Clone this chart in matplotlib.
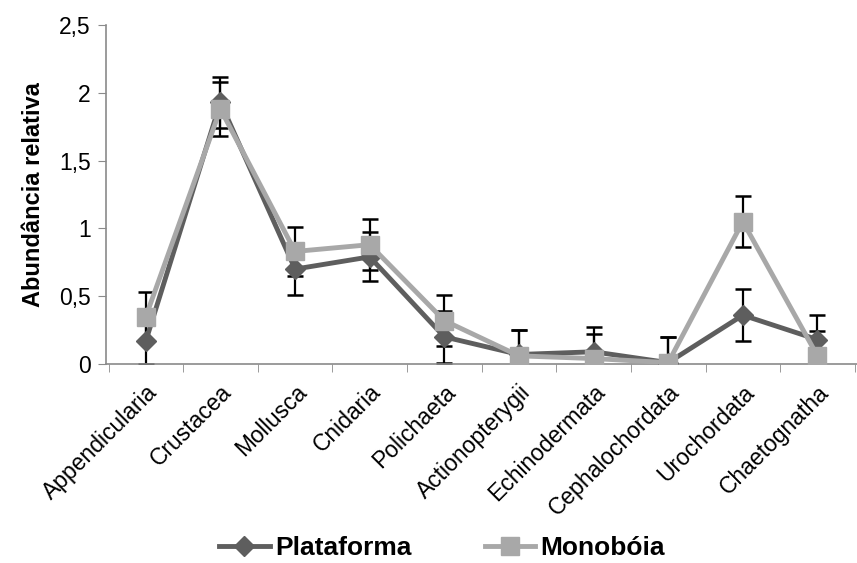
import numpy as np
import matplotlib.pyplot as plt
from matplotlib.ticker import FixedLocator, FuncFormatter

# relative abundance of zooplankton groups at two sites
groups = ['Appendicularia', 'Crustacea', 'Mollusca', 'Cnidaria', 'Polichaeta',
          'Actionopterygii', 'Echinodermata', 'Cephalochordata', 'Urochordata',
          'Chaetognatha']
plataforma = [0.17, 1.93, 0.70, 0.79, 0.20, 0.07, 0.09, 0.01, 0.36, 0.18]
plataforma_err = [0.17, 0.19, 0.19, 0.18, 0.19, 0.18, 0.18, 0.19, 0.19, 0.18]
monoboia = [0.35, 1.88, 0.83, 0.88, 0.32, 0.06, 0.04, 0.01, 1.05, 0.06]
monoboia_err = [0.18, 0.20, 0.18, 0.19, 0.19, 0.19, 0.18, 0.19, 0.19, 0.18]

plt.rcParams['font.family'] = ['Liberation Sans', 'DejaVu Sans']

fig = plt.figure(figsize=(8.57, 5.63), dpi=100)
ax = fig.add_axes([0.124, 0.3535, 0.876, 0.602])

x = np.arange(len(groups))

ax.errorbar(x, plataforma, yerr=plataforma_err, fmt='none', ecolor='black',
            elinewidth=1.6, capsize=6, capthick=1.8, zorder=2)
ax.errorbar(x, monoboia, yerr=monoboia_err, fmt='none', ecolor='black',
            elinewidth=1.6, capsize=6, capthick=1.8, zorder=2)
l1, = ax.plot(x, plataforma, color='#5e5e5e', lw=3.5, marker='D', ms=10,
              label='Plataforma', zorder=3)
l2, = ax.plot(x, monoboia, color='#a8a8a8', lw=3.5, marker='s', ms=13,
              label='Monobóia', zorder=4)

ax.set_xlim(-0.53, len(groups) - 0.47)
ax.set_ylim(0, 2.5)
ax.set_yticks([0, 0.5, 1, 1.5, 2, 2.5])
ax.yaxis.set_major_formatter(FuncFormatter(lambda v, p: f'{v:g}'.replace('.', ',')))

ax.set_xticks(x)
ax.set_xticklabels(groups, rotation=45, ha='right', rotation_mode='anchor')
ax.xaxis.set_minor_locator(FixedLocator(np.arange(len(groups) + 1) - 0.5))
ax.tick_params(axis='x', which='major', length=0, pad=12, labelsize=16.5)
ax.tick_params(axis='x', which='minor', length=6, color='#8a8a8a', direction='out')
ax.tick_params(axis='y', length=6, color='#8a8a8a', labelsize=16.5, pad=5)

for side in ['top', 'right']:
    ax.spines[side].set_visible(False)
for side in ['left', 'bottom']:
    ax.spines[side].set_color('#8a8a8a')
    ax.spines[side].set_linewidth(1.2)

ax.set_ylabel('Abundância relativa', fontsize=17, fontweight='bold', labelpad=10)

fig.legend(handles=[l1, l2], loc='center', bbox_to_anchor=(0.516, 0.027),
           ncol=2, frameon=False, prop={'size': 19, 'weight': 'bold'},
           handlelength=1.9, columnspacing=2.8, handletextpad=0.2)

fig.savefig('out.png', dpi=100)
